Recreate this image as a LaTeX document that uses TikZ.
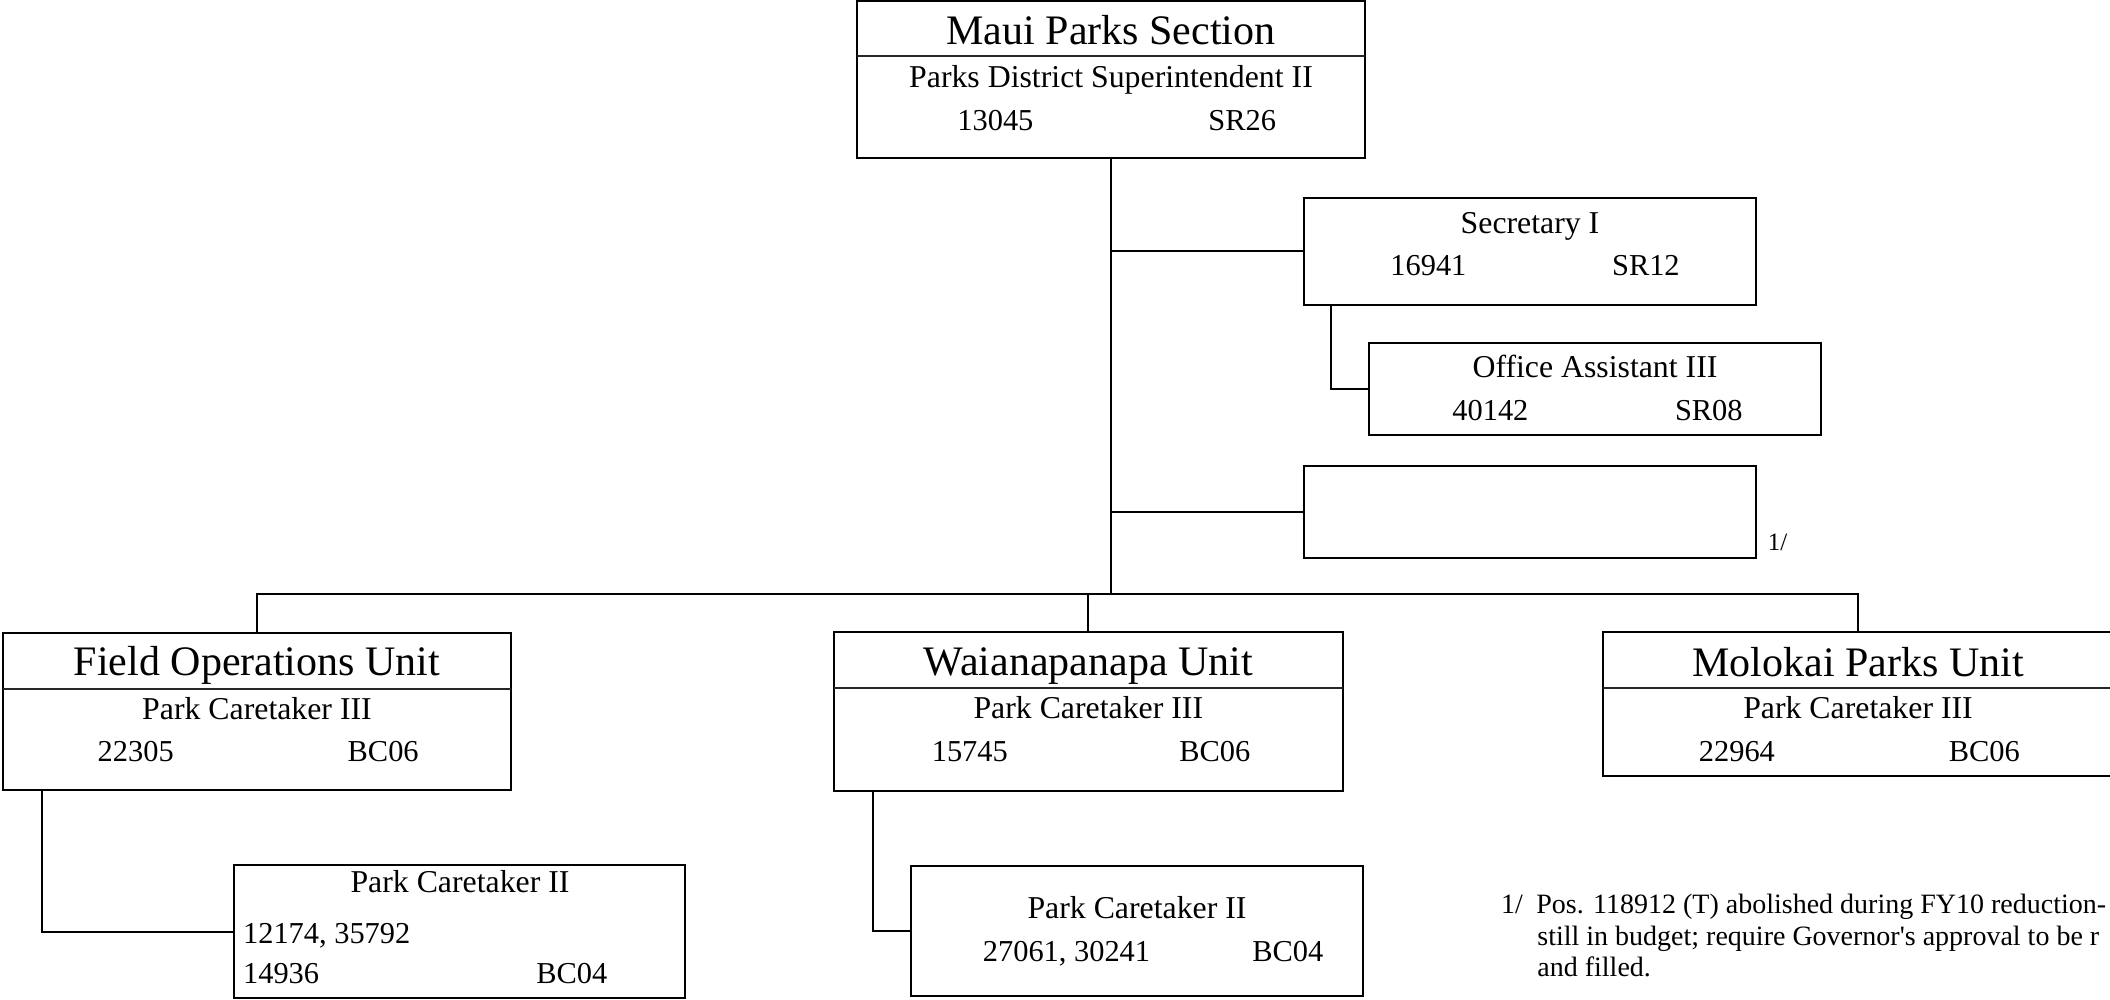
\documentclass[tikz,border=0pt]{standalone}
\usepackage{fontspec}
\setmainfont{Liberation Serif}
\usetikzlibrary{fit}
\tikzset{
  box/.style={draw, line width=1.1pt, inner sep=0pt, outer sep=0pt},
  link/.style={line width=1pt},
  divider/.style={line width=0.6pt, black!85},
  ttltxt/.style={inner sep=0pt, anchor=base, font=\fontsize{21pt}{24pt}\selectfont},
  postxt/.style={inner sep=0pt, anchor=base, font=\fontsize{15.9pt}{18pt}\selectfont},
  numtxt/.style={inner sep=0pt, anchor=base west, font=\fontsize{15.2pt}{17pt}\selectfont},
  notetxt/.style={inner sep=0pt, anchor=base west, font=\fontsize{14pt}{16pt}\selectfont},
  marktxt/.style={inner sep=0pt, anchor=base west, font=\fontsize{12.5pt}{14pt}\selectfont},
}
\begin{document}
\begin{tikzpicture}[x=0.5pt, y=-0.5pt]
\useasboundingbox (0,0) rectangle (2110,1000);
\clip (0,0) rectangle (2110,1000);

% Maui Parks Section
\node[box, fit={(857,1) (1365,158)}] (maui) {};
\draw[divider] (maui.west |- 0,56) -- (maui.east |- 0,56);
\node[ttltxt] (mauiT) at (1111,45) {Maui Parks Section};
\node[postxt] (mauiP) at (1111,87.3) {Parks District Superintendent II};
\node[numtxt] (mauiN) at (957,130.7) {13045};
\node[numtxt] (mauiG) at (1208,130.7) {SR26};

% Secretary I
\node[box, fit={(1304,198) (1756,305)}] (sec) {};
\node[postxt] (secP) at (1530,233.3) {Secretary I};
\node[numtxt] (secN) at (1390,276) {16941};
\node[numtxt] (secG) at (1611.7,276) {SR12};

% Office Assistant III
\node[box, fit={(1368.6,343.3) (1821,435)}] (off) {};
\node[postxt] (offP) at (1595,377.3) {Office Assistant III};
\node[numtxt] (offN) at (1452,420) {40142};
\node[numtxt] (offG) at (1674.6,420) {SR08};

% empty box
\node[box, fit={(1304,466) (1756,558)}] (emp) {};
\node[marktxt] (empM) at (1767.5,550.7) {1/};

% Field Operations Unit
\node[box, fit={(3.3,632.7) (510.7,790)}] (fld) {};
\draw[divider] (fld.west |- 0,689) -- (fld.east |- 0,689);
\node[ttltxt] (fldT) at (257,675) {Field Operations Unit};
\node[postxt] (fldP) at (257,719) {Park Caretaker III};
\node[numtxt] (fldN) at (97.3,761.7) {22305};
\node[numtxt] (fldG) at (347.3,761.7) {BC06};

\node[box, fit={(234,865) (685,998)}] (fldc) {};
\node[postxt] (fldcP) at (460,892.3) {Park Caretaker II};
\node[numtxt] (fldcN1) at (242.7,943.3) {12174, 35792};
\node[numtxt] (fldcN2) at (242.7,983.3) {14936};
\node[numtxt] (fldcG) at (536,983.3) {BC04};

% Waianapanapa Unit
\node[box, fit={(833.6,631.7) (1343,790.7)}] (wai) {};
\draw[divider] (wai.west |- 0,688) -- (wai.east |- 0,688);
\node[ttltxt] (waiT) at (1088.3,675) {Waianapanapa Unit};
\node[postxt] (waiP) at (1088.3,718.3) {Park Caretaker III};
\node[numtxt] (waiN) at (931.4,761.7) {15745};
\node[numtxt] (waiG) at (1179,761.7) {BC06};

\node[box, fit={(911,865.7) (1363,996)}] (waic) {};
\node[postxt] (waicP) at (1137,918.3) {Park Caretaker II};
\node[numtxt] (waicN) at (982.5,961.7) {27061, 30241};
\node[numtxt] (waicG) at (1252,961.7) {BC04};

% Molokai Parks Unit
\node[box, fit={(1603,631.7) (2113,776)}] (mol) {};
\draw[divider] (mol.west |- 0,688) -- (mol.east |- 0,688);
\node[ttltxt] (molT) at (1858,676) {Molokai Parks Unit};
\node[postxt] (molP) at (1858,718.3) {Park Caretaker III};
\node[numtxt] (molN) at (1698.5,761.7) {22964};
\node[numtxt] (molG) at (1948.5,761.7) {BC06};

% footnote
\node[notetxt] (fn0) at (1500.7,913.3) {1/};
\node[notetxt] (fn1) at (1536,913.3) {Pos. 118912 (T) abolished during FY10 reduction-};
\node[notetxt] (fn2) at (1537,945) {still in budget; require Governor\textquotesingle s approval to be r};
\node[notetxt] (fn3) at (1537,976.7) {and filled.};

% connectors
\coordinate (busy) at (0,594);
\coordinate (secdrop) at (1331,0);
\coordinate (flddrop) at (41.5,0);
\coordinate (waidrop) at (873,0);
\draw[link] (maui.south) -- (maui.south |- busy);
\draw[link] (sec.west) -- (sec.west -| maui.south);
\draw[link] (emp.west) -- (emp.west -| maui.south);
\draw[link] (fld.north) -- (fld.north |- busy) -- (mol.north |- busy) -- (mol.north);
\draw[link] (wai.north) -- (wai.north |- busy);
\draw[link] (sec.south -| secdrop) |- (off.west);
\draw[link] (fld.south -| flddrop) |- (fldc.west);
\draw[link] (wai.south -| waidrop) |- (waic.west);
\end{tikzpicture}
\end{document}
